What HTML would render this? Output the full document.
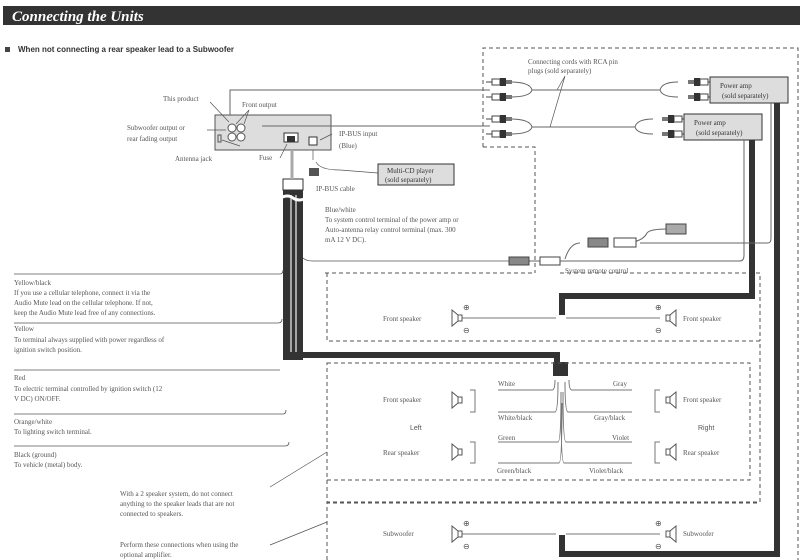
<!DOCTYPE html>
<html><head><meta charset="utf-8"><style>
html,body{margin:0;padding:0;background:#fff}
svg{display:block}
text{font-family:"Liberation Serif",serif;fill:#555;font-size:7px}
</style></head><body>
<svg width="800" height="560" viewBox="0 0 800 560" xmlns="http://www.w3.org/2000/svg">
<defs>
<g id="spkL"><path d="M0,-8 L6,-3 L6,3 L0,8 Z M6,-3 H10 V3 H6" fill="#fff" stroke="#555" stroke-width="1"/></g>
<g id="spkR"><path d="M0,-8 L-6,-3 L-6,3 L0,8 Z M-6,-3 H-10 V3 H-6" fill="#fff" stroke="#555" stroke-width="1"/></g>
<g id="rca"><rect x="0" y="-3" width="8" height="6" fill="#fff" stroke="#444"/><rect x="8" y="-4" width="6" height="8" fill="#333"/><path d="M14,-2 h6 v4 h-6" fill="#777"/><line x1="-6" y1="0" x2="0" y2="0" stroke="#444"/></g>
</defs>
<rect x="3" y="6" width="797" height="19" fill="#333"/>
<text x="12" y="21" style="font-size:15px;font-style:italic;font-weight:bold;fill:#fff">Connecting the Units</text>
<rect x="5" y="47" width="5" height="5" fill="#444"/>
<text x="18" y="52" style="font-size:8px;font-weight:bold;fill:#333;font-family:'Liberation Sans',sans-serif">When not connecting a rear speaker lead to a Subwoofer</text>

<!-- head unit -->
<rect x="215" y="115" width="116" height="35" fill="#ddd" stroke="#555"/>
<g fill="#fff" stroke="#555"><circle cx="232" cy="128" r="4"/><circle cx="241" cy="128" r="4"/><circle cx="232" cy="137" r="4"/><circle cx="241" cy="137" r="4"/></g>
<rect x="218" y="135" width="3" height="7" fill="none" stroke="#555"/>
<rect x="284" y="133" width="14" height="9" fill="#fff" stroke="#333"/><rect x="287" y="136" width="8" height="6" fill="#333"/>
<rect x="309" y="137" width="8" height="8" fill="#fff" stroke="#333"/>
<path d="M230,115 V90 H490 M262,126 H490" fill="none" stroke="#666"/>
<g stroke="#555" fill="none" stroke-width="0.7">
<path d="M210,102 L229,122"/><path d="M249,110 L236,124 M249,110 L244,124"/><path d="M207,130 L226,130"/><path d="M240,146 L222,140"/><path d="M280,158 L287,144"/><path d="M332,134 L320,140"/><path d="M313,150 V160"/><path d="M316,162 Q320,170 340,170 L378,173"/>
</g>
<text x="163" y="101">This product</text>
<text x="242" y="107">Front output</text>
<text x="127" y="130">Subwoofer output or</text>
<text x="127" y="141">rear fading output</text>
<text x="175" y="161">Antenna jack</text>
<text x="259" y="160">Fuse</text>
<text x="339" y="136">IP-BUS input</text>
<text x="339" y="148">(Blue)</text>
<text x="316" y="191">IP-BUS cable</text>
<rect x="309" y="168" width="10" height="8" fill="#555"/>
<rect x="378" y="164" width="76" height="21" fill="#ddd" stroke="#333"/>
<text x="387" y="173" style="fill:#333">Multi-CD player</text>
<text x="385" y="182" style="fill:#333">(sold separately)</text>

<!-- harness -->
<rect x="283" y="179" width="20" height="11" fill="#fff" stroke="#333"/>
<line x1="292" y1="150" x2="292" y2="179" stroke="#aaa" stroke-width="3"/>
<rect x="283" y="190" width="20" height="170" fill="#333"/>
<line x1="291" y1="195" x2="291" y2="352" stroke="#ccc" stroke-width="1.5"/>
<line x1="296" y1="195" x2="296" y2="352" stroke="#ccc" stroke-width="1.5"/>
<path d="M280,198 q8,-4 13,0 q6,4 13,0" stroke="#fff" stroke-width="3" fill="none"/>
<path d="M300,355 H557 V375" stroke="#333" stroke-width="6" fill="none"/>
<rect x="553" y="362" width="15" height="14" fill="#333"/>
<!-- left wires -->
<g stroke="#555" fill="none" stroke-width="0.8">
<path d="M14,274 H280 q3,0 3,-4"/>
<path d="M14,323 H278 q4,0 4,-4"/>
<path d="M14,370 H280"/>
<path d="M14,414 H283 q3,0 3,-4"/>
<path d="M14,446 H285 q4,0 4,-4"/>
<path d="M303,258 q3,3 10,3 H510"/>
</g>
<text x="14" y="285">Yellow/black</text>
<text x="14" y="295">If you use a cellular telephone, connect it via the</text>
<text x="14" y="305">Audio Mute lead on the cellular telephone. If not,</text>
<text x="14" y="315">keep the Audio Mute lead free of any connections.</text>
<text x="14" y="331">Yellow</text>
<text x="14" y="342">To terminal always supplied with power regardless of</text>
<text x="14" y="352">ignition switch position.</text>
<text x="14" y="380">Red</text>
<text x="14" y="391">To electric terminal controlled by ignition switch (12</text>
<text x="14" y="401">V DC) ON/OFF.</text>
<text x="14" y="424">Orange/white</text>
<text x="14" y="434">To lighting switch terminal.</text>
<text x="14" y="457">Black (ground)</text>
<text x="14" y="467">To vehicle (metal) body.</text>
<text x="120" y="496">With a 2 speaker system, do not connect</text>
<text x="120" y="506">anything to the speaker leads that are not</text>
<text x="120" y="516">connected to speakers.</text>
<text x="120" y="547">Perform these connections when using the</text>
<text x="120" y="557">optional amplifier.</text>
<path d="M270,487 L327,452 M270,545 L327,522" stroke="#555" stroke-width="0.7"/>
<text x="325" y="212">Blue/white</text>
<text x="325" y="222">To system control terminal of the power amp or</text>
<text x="325" y="232">Auto-antenna relay control terminal (max. 300</text>
<text x="325" y="242">mA 12 V DC).</text>

<!-- dashed boxes -->
<g stroke="#555" fill="none" stroke-dasharray="4,3" stroke-width="1">
<path d="M483,147 V48 H798 V560"/>
<path d="M483,147 H535 V273"/>
<path d="M325,273 H535"/>
<path d="M327,273 V341 H760 V502 H327 V363"/>
<path d="M327,363 H750 V480 H327 Z"/>
<path d="M327,560 V503 H760"/>
<path d="M560,273 H760 V341"/>
</g>
<!-- RCA -->
<g stroke="#666" fill="none"><path d="M510,82 q20,0 22,8 M510,97 q20,0 22,-7 M532,90 H660 q2,-8 18,-8 M660,90 q2,7 18,7"/>
<path d="M510,119 q20,0 22,8 M510,134 q20,0 22,-7 M532,127 H635 q2,-8 18,-8 M635,127 q2,7 18,7"/></g>
<use href="#rca" x="492" y="82"/><use href="#rca" x="492" y="97"/><use href="#rca" x="492" y="119"/><use href="#rca" x="492" y="134"/>
<use href="#rca" x="698" y="82" transform="rotate(180 698 82) translate(-1396 -164) scale(1)"/>
<g transform="translate(1400,0) scale(-1,1)"><use href="#rca" x="692" y="82"/><use href="#rca" x="692" y="97"/><use href="#rca" x="718" y="119"/><use href="#rca" x="718" y="134"/></g>
<text x="528" y="64">Connecting cords with RCA pin</text>
<text x="528" y="73">plugs (sold separately)</text>
<path d="M565,76 L557,90 M565,76 L550,127" stroke="#555" stroke-width="0.7"/>
<rect x="710" y="77" width="78" height="26" fill="#ddd" stroke="#333"/>
<text x="720" y="88" style="fill:#333">Power amp</text><text x="722" y="98" style="fill:#333">(sold separately)</text>
<rect x="684" y="114" width="78" height="26" fill="#ddd" stroke="#333"/>
<text x="694" y="125" style="fill:#333">Power amp</text><text x="696" y="135" style="fill:#333">(sold separately)</text>
<!-- thick cables -->
<path d="M777,103 V554 H562 V535" stroke="#333" stroke-width="6" fill="none"/>
<path d="M752,140 V296 H562 V315" stroke="#333" stroke-width="6" fill="none"/>
<!-- remote -->
<g stroke="#666" fill="none"><path d="M510,261 H740 q4,0 4,-6 V140"/><path d="M640,243 H768 q3,0 3,-5 V103"/><path d="M565,259 q5,-16 15,-16 M622,243 q20,0 25,-10 q3,-4 20,-4"/></g>
<rect x="509" y="257" width="20" height="8" fill="#888" stroke="#444"/><rect x="540" y="257" width="20" height="8" fill="#fff" stroke="#444"/>
<rect x="588" y="238" width="20" height="9" fill="#888" stroke="#444"/><rect x="614" y="238" width="22" height="9" fill="#fff" stroke="#444"/>
<rect x="666" y="224" width="20" height="10" fill="#aaa" stroke="#444"/>
<text x="565" y="273">System remote control</text>

<!-- front speakers -->
<g stroke="#777" fill="none"><path d="M462,318 H556 M566,318 H660"/></g>
<use href="#spkL" x="452" y="318"/><use href="#spkR" x="676" y="318"/>
<text x="383" y="321">Front speaker</text><text x="683" y="321">Front speaker</text>
<text x="463" y="310" style="font-size:8px">⊕</text><text x="463" y="333" style="font-size:8px">⊖</text>
<text x="655" y="310" style="font-size:8px">⊕</text><text x="655" y="333" style="font-size:8px">⊖</text>
<!-- middle -->
<g stroke="#777" fill="none">
<path d="M470,390 H475 V412 H470 M470,442 H475 V463 H470"/>
<path d="M660,390 H655 V412 H660 M660,442 H655 V463 H660"/>
<path d="M498,390 H552 q3,0 3,-10 M498,412 H555 q3,0 3,-30 M498,442 H558 q3,0 3,-50 M498,463 H559 q3,0 3,-60"/>
<path d="M632,390 H572 q-3,0 -3,-10 M632,412 H568 q-3,0 -3,-30 M632,442 H566 q-3,0 -3,-50 M632,463 H564 q-3,0 -3,-60"/>
</g>
<use href="#spkL" x="452" y="400"/><use href="#spkR" x="676" y="400"/>
<use href="#spkL" x="452" y="452"/><use href="#spkR" x="676" y="452"/>
<text x="383" y="402">Front speaker</text><text x="683" y="402">Front speaker</text>
<text x="383" y="455">Rear speaker</text><text x="683" y="455">Rear speaker</text>
<text x="410" y="430" style="font-family:'Liberation Sans',sans-serif">Left</text>
<text x="698" y="430" style="font-family:'Liberation Sans',sans-serif">Right</text>
<text x="498" y="386">White</text><text x="498" y="420">White/black</text>
<text x="498" y="440">Green</text><text x="497" y="473">Green/black</text>
<text x="613" y="386">Gray</text><text x="594" y="420">Gray/black</text>
<text x="612" y="440">Violet</text><text x="589" y="473">Violet/black</text>
<!-- subwoofer -->
<g stroke="#777" fill="none"><path d="M462,534 H556 M566,534 H660"/></g>
<use href="#spkL" x="452" y="534"/><use href="#spkR" x="676" y="534"/>
<text x="383" y="536">Subwoofer</text><text x="683" y="536">Subwoofer</text>
<text x="463" y="526" style="font-size:8px">⊕</text><text x="463" y="549" style="font-size:8px">⊖</text>
<text x="655" y="526" style="font-size:8px">⊕</text><text x="655" y="549" style="font-size:8px">⊖</text>
</svg>
</body></html>
